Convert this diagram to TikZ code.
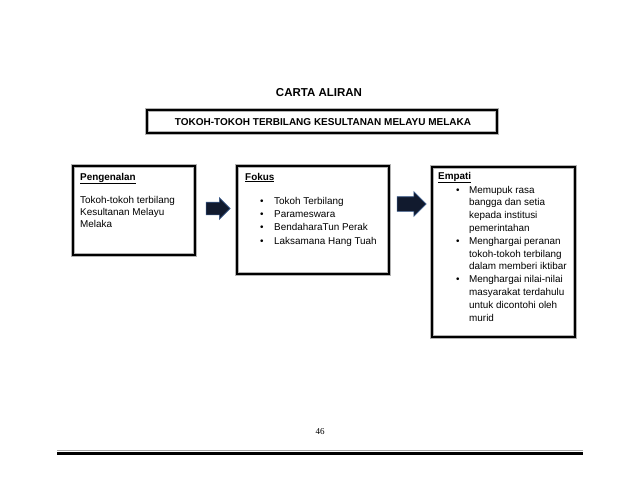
\documentclass[tikz,border=0pt]{standalone}
\usepackage{fontspec}
\setmainfont{Liberation Sans}
\newfontfamily\serifnum{Liberation Serif}
\usetikzlibrary{shapes.arrows}
\definecolor{arrowfill}{HTML}{111A2E}
\definecolor{arrowedge}{HTML}{3A5A8A}
\tikzset{
  framebox/.style={draw=black, line width=1.8pt, preaction={draw=gray!60, line width=3.4pt}, inner sep=0pt},
  boxtext/.style={anchor=base west, inner sep=0pt, font=\fontsize{9.9}{12}\selectfont},
  headtext/.style={anchor=base west, inner sep=0pt, font=\bfseries\fontsize{9.9}{12}\selectfont},
  flowarrow/.style={single arrow, fill=arrowfill, draw=arrowedge, line width=0.6pt, inner xsep=0pt, inner ysep=6pt, single arrow head extend=4.5pt, minimum height=24pt, shape border rotate=0}
}
\begin{document}
\begin{tikzpicture}[x=1pt,y=-1pt]
\useasboundingbox (0,0) rectangle (638,493);
\fill[white] (0,0) rectangle (638,493);

% heading
\node[font=\bfseries\fontsize{11.5}{13}\selectfont, inner sep=0pt] (heading) at (319,93) {CARTA ALIRAN};

% title box
\draw[framebox] (147,110) rectangle (497,133);
\node[font=\bfseries\fontsize{10}{12}\selectfont, inner sep=0pt] (title) at (323,122.5) {TOKOH-TOKOH TERBILANG KESULTANAN MELAYU MELAKA};

% boxes
\draw[framebox] (73,166) rectangle (195,255);
\draw[framebox] (237,166) rectangle (389,274);
\draw[framebox] (432,167) rectangle (575,337);

% box 1
\node[headtext] (h1) at (80,180) {\underline{Pengenalan}};
\foreach \y/\t [count=\i] in {203/Tokoh-tokoh terbilang, 215/Kesultanan Melayu, 227/Melaka}{
  \node[boxtext] (p\i) at (80,\y) {\t};
}

% box 2
\node[headtext] (h2) at (245,180) {\underline{Fokus}};
\foreach \y/\t [count=\i] in {204/Tokoh Terbilang, 217.4/Parameswara, 230.8/BendaharaTun Perak, 244.2/Laksamana Hang Tuah}{
  \node[boxtext] (fb\i) at (260,\y) {•};
  \node[boxtext] (f\i) at (274,\y) {\t};
}

% box 3
\node[headtext] (h3) at (438,179) {\underline{Empati}};
\foreach \y in {193,244.2,282.6}{
  \node[boxtext] at (456,\y) {•};
}
\foreach \y/\t [count=\i] in {193/Memupuk rasa, 205.8/bangga dan setia, 218.6/kepada institusi, 231.4/pemerintahan, 244.2/Menghargai peranan, 257/tokoh-tokoh terbilang, 269.8/dalam memberi iktibar, 282.6/Menghargai nilai-nilai, 295.4/masyarakat terdahulu, 308.2/untuk dicontohi oleh, 321/murid}{
  \node[boxtext] (e\i) at (469,\y) {\t};
}

% arrows
\node[flowarrow] (a1) at (215,208.5) {};
\node[flowarrow, inner ysep=7pt, minimum height=29pt, single arrow head extend=5pt] (a2) at (408,204) {};

% footer
\node[font=\serifnum\fontsize{9}{11}\selectfont, inner sep=0pt] (page) at (320,432) {46};
\draw[gray!70, line width=1pt] (57,450.5) -- (583,450.5);
\draw[black, line width=3pt] (57,453.5) -- (583,453.5);
\end{tikzpicture}
\end{document}
